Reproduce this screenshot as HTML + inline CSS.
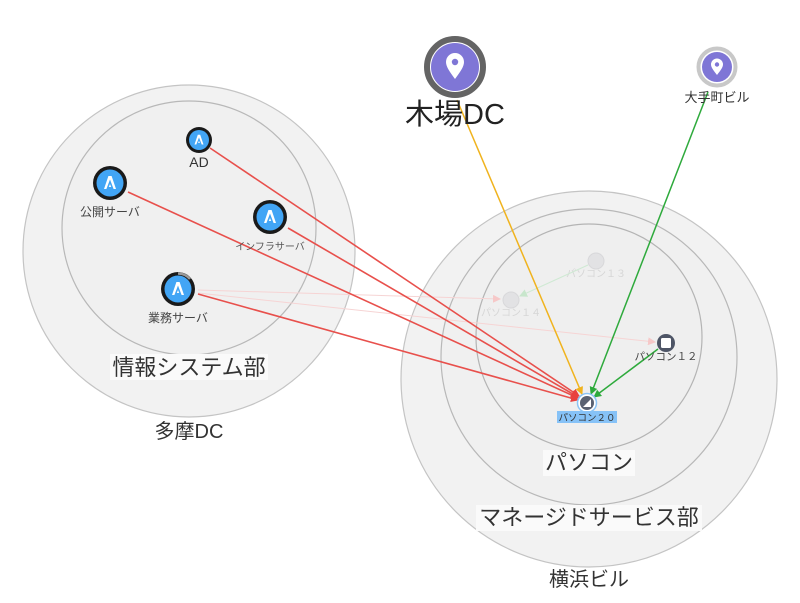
<!DOCTYPE html>
<html><head><meta charset="utf-8"><style>
html,body{margin:0;padding:0;background:#fff;}
svg{display:block;font-family:"Liberation Sans","Noto Sans CJK JP",sans-serif;}
</style></head><body>
<svg width="800" height="603" viewBox="0 0 800 603" xmlns="http://www.w3.org/2000/svg">
<defs>
<marker id="ar" markerWidth="8" markerHeight="8" refX="7" refY="4" orient="auto" markerUnits="userSpaceOnUse"><path d="M0,0 L8,4 L0,8 z" fill="#e8413f"/></marker>
<marker id="ay" markerWidth="8" markerHeight="8" refX="7" refY="4" orient="auto" markerUnits="userSpaceOnUse"><path d="M0,0 L8,4 L0,8 z" fill="#f0b31e"/></marker>
<marker id="ag" markerWidth="8" markerHeight="8" refX="7" refY="4" orient="auto" markerUnits="userSpaceOnUse"><path d="M0,0 L8,4 L0,8 z" fill="#2eaa3c"/></marker>
<marker id="afr" markerWidth="8" markerHeight="8" refX="7" refY="4" orient="auto" markerUnits="userSpaceOnUse"><path d="M0,0 L8,4 L0,8 z" fill="#f6c8c8"/></marker>
<marker id="afg" markerWidth="8" markerHeight="8" refX="7" refY="4" orient="auto" markerUnits="userSpaceOnUse"><path d="M0,0 L8,4 L0,8 z" fill="#c8e6cc"/></marker>
<g id="aicon"><path d="M-6,6 L-1.6,-7 L1.6,-7 L6,6 L3.6,6 L0,-3.5 L-3.6,6 z M-1.2,4 L1.2,4 L0,1 z" fill="#fff"/></g>
</defs>
<circle cx="189" cy="251" r="166" fill="#f2f2f2" stroke="#c4c4c4" stroke-width="1.2"/>
<circle cx="189" cy="228" r="127" fill="#f0f0f0" stroke="#b8b8b8" stroke-width="1.2"/>
<rect x="110" y="354" width="158" height="26" fill="#fafafa"/>
<text x="189" y="375" font-size="22" text-anchor="middle" fill="#333">情報システム部</text>
<text x="189" y="438" font-size="20" text-anchor="middle" fill="#333">多摩DC</text>
<circle cx="589" cy="379" r="188" fill="#f2f2f2" stroke="#c4c4c4" stroke-width="1.2"/>
<circle cx="589" cy="357" r="148" fill="#f0f0f0" stroke="#b8b8b8" stroke-width="1.2"/>
<circle cx="589" cy="337" r="113" fill="#efefef" stroke="#b4b4b4" stroke-width="1.2"/>
<rect x="543" y="450" width="92" height="26" fill="#fafafa"/>
<text x="589" y="470" font-size="22" text-anchor="middle" fill="#333">パソコン</text>
<rect x="476" y="505" width="226" height="26" fill="#fafafa"/>
<text x="589" y="525" font-size="22" text-anchor="middle" fill="#333">マネージドサービス部</text>
<text x="589" y="586" font-size="20" text-anchor="middle" fill="#333">横浜ビル</text>
<circle cx="596" cy="261" r="8" fill="#e2e2e4" stroke="#d8d8da"/>
<text x="596" y="277" font-size="10" text-anchor="middle" fill="#d6d6d6">パソコン１３</text>
<circle cx="511" cy="300" r="8" fill="#e2e2e4" stroke="#d8d8da"/>
<text x="511" y="316" font-size="10" text-anchor="middle" fill="#d6d6d6">パソコン１４</text>
<line x1="198" y1="290" x2="500" y2="299" stroke="#f6d4d4" stroke-width="1" marker-end="url(#afr)"/>
<line x1="198" y1="293" x2="655" y2="342" stroke="#f6d4d4" stroke-width="1" marker-end="url(#afr)"/>
<line x1="588" y1="265" x2="520" y2="296" stroke="#cfe9d3" stroke-width="1" marker-end="url(#afg)"/>
<g stroke="#e8504c" stroke-width="1.6" fill="none">
<line x1="210" y1="148" x2="579" y2="396" marker-end="url(#ar)"/>
<line x1="128" y1="192" x2="578" y2="398" marker-end="url(#ar)"/>
<line x1="288" y1="228" x2="578" y2="397" marker-end="url(#ar)"/>
<line x1="198" y1="294" x2="578" y2="400" marker-end="url(#ar)"/>
</g>
<line x1="457" y1="100" x2="582" y2="394" stroke="#f0b31e" stroke-width="1.5" marker-end="url(#ay)"/>
<line x1="708" y1="92" x2="591" y2="394" stroke="#2eaa3c" stroke-width="1.5" marker-end="url(#ag)"/>
<line x1="658" y1="349" x2="594" y2="397" stroke="#2eaa3c" stroke-width="1.5" marker-end="url(#ag)"/>
<g>
<circle cx="199" cy="140" r="13" fill="#1a1a1a"/><circle cx="199" cy="140" r="10" fill="#42a5f5"/>
<use href="#aicon" transform="translate(199,140) scale(0.75)"/>
<text x="199" y="167" font-size="14" text-anchor="middle" fill="#333">AD</text>
<circle cx="110" cy="183" r="17" fill="#1a1a1a"/><circle cx="110" cy="183" r="13.5" fill="#42a5f5"/>
<use href="#aicon" transform="translate(110,183)"/>
<text x="110" y="216" font-size="12" text-anchor="middle" fill="#444">公開サーバ</text>
<circle cx="270" cy="217" r="17" fill="#1a1a1a"/><circle cx="270" cy="217" r="13.5" fill="#42a5f5"/>
<use href="#aicon" transform="translate(270,217)"/>
<text x="270" y="250" font-size="10" text-anchor="middle" fill="#555">インフラサーバ</text>
<circle cx="178" cy="289" r="17" fill="#1a1a1a"/><circle cx="178" cy="289" r="13.5" fill="#42a5f5"/>
<path d="M178,273.5 A15.5,15.5 0 0 1 190,279" stroke="#999" stroke-width="2.5" fill="none"/>
<use href="#aicon" transform="translate(178,289)"/>
<text x="178" y="322" font-size="12" text-anchor="middle" fill="#444">業務サーバ</text>
</g>
<circle cx="666" cy="343" r="9" fill="#4e5566"/>
<rect x="661" y="338" width="10" height="10" rx="1.5" fill="#fff"/>
<text x="666" y="360" font-size="10.5" text-anchor="middle" fill="#444">パソコン１２</text>
<circle cx="587" cy="403" r="9.5" fill="#fff" stroke="#8cc4f5" stroke-width="1.5"/>
<circle cx="587" cy="403" r="7" fill="#5a6272"/>
<path d="M583,407 L591,407 L591,399 z" fill="#fff"/>
<rect x="557" y="411" width="60" height="12" fill="#86c2f7"/>
<text x="587" y="421" font-size="9.5" text-anchor="middle" fill="#333">パソコン２０</text>
<circle cx="455" cy="67" r="28" fill="#fff" stroke="#646464" stroke-width="6"/>
<circle cx="455" cy="67" r="24" fill="#7f76d6"/>
<path d="M455,79 C450,72 446,67 446,62 A9,9 0 0 1 464,62 C464,67 460,72 455,79 z" fill="#fff"/>
<circle cx="455" cy="62" r="3.2" fill="#7f76d6"/>
<text x="455" y="124" font-size="29" text-anchor="middle" fill="#222">木場DC</text>
<circle cx="717" cy="67" r="18.5" fill="#fff" stroke="#c8c8c8" stroke-width="4"/>
<circle cx="717" cy="67" r="15" fill="#7f76d6"/>
<path d="M717,75 C714,71 711,67.5 711,64.5 A6,6 0 0 1 723,64.5 C723,67.5 720,71 717,75 z" fill="#fff"/>
<circle cx="717" cy="64.5" r="2.2" fill="#7f76d6"/>
<text x="717" y="102" font-size="13" text-anchor="middle" fill="#333">大手町ビル</text>
</svg>
</body></html>
